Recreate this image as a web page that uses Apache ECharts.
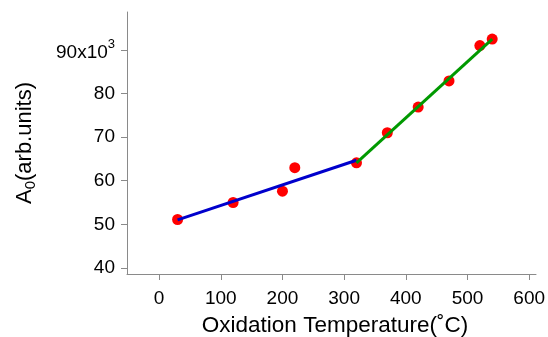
<!DOCTYPE html>
<html><head><meta charset="utf-8">
<script src="https://cdn.jsdelivr.net/npm/echarts@6/dist/echarts.min.js"></script>
<style>html,body{margin:0;padding:0;background:#fff}#c{width:548px;height:337px}</style>
</head><body><div id="c"></div>
<script>
// Data
const temperatures = [30, 120, 200, 220, 320, 370, 420, 470, 520, 540];
const amplitudes   = [51.1, 55.0, 57.6, 63.0, 64.1, 71.0, 76.9, 82.9, 91.0, 92.5];
const lowFitX  = [30, 320];
const lowFitY  = [51.0, 64.7];
const highFitX = [320, 540];
const highFitY = [64.1, 92.5];
const xTicks = [0, 100, 200, 300, 400, 500, 600];
const yTicks = [40, 50, 60, 70, 80, 90];

const FONT = 'Liberation Sans, Arial, sans-serif';
const AXIS = '#8a8a8a';

const chart = echarts.init(document.getElementById('c'), null, {renderer: 'canvas'});
const pts = temperatures.map((t, i) => [t, amplitudes[i]]);
const low = lowFitX.map((t, i) => [t, lowFitY[i]]);
const high = highFitX.map((t, i) => [t, highFitY[i]]);

chart.setOption({
  animation: false,
  backgroundColor: '#fff',
  grid: {left: 127, right: 12, top: 12, bottom: 63, containLabel: false, outerBoundsMode: 'none'},
  xAxis: {
    type: 'value', min: -52, max: 611,
    name: 'Oxidation Temperature(˚C)', nameLocation: 'middle', nameGap: 40,
    nameTextStyle: {fontFamily: FONT, fontSize: 22.5, color: '#000', padding: [0, 0, 0, 7]},
    axisLine: {show: true, onZero: false, lineStyle: {color: AXIS, width: 1}},
    axisTick: {show: true, length: 6, customValues: xTicks, lineStyle: {color: AXIS}},
    axisLabel: {customValues: xTicks, fontFamily: FONT, fontSize: 19, color: '#000', margin: 15},
    splitLine: {show: false}
  },
  yAxis: {
    type: 'value', min: 38.6, max: 98.7,
    name: '{m|A}{s|0}{m|(arb.units)}', nameLocation: 'middle', nameGap: 89, nameRotate: 90,
    nameTextStyle: {fontFamily: FONT, fontSize: 22, color: '#000',
      rich: {
        m: {fontFamily: FONT, fontSize: 22, lineHeight: 22, color: '#000', verticalAlign: 'top'},
        s: {fontFamily: FONT, fontSize: 15, lineHeight: 24, color: '#000', verticalAlign: 'bottom'}
      }},
    axisLine: {show: true, onZero: false, lineStyle: {color: AXIS, width: 1}},
    axisTick: {show: true, length: 6, customValues: yTicks, lineStyle: {color: AXIS}},
    axisLabel: {
      customValues: yTicks, fontFamily: FONT, fontSize: 19, color: '#000', margin: 12,
      formatter: v => v === 90 ? '{m|90x10}{sup|3}' : String(v),
      rich: {
        m: {fontFamily: FONT, fontSize: 19, lineHeight: 16, color: '#000', verticalAlign: 'bottom'},
        sup: {fontFamily: FONT, fontSize: 13, lineHeight: 24, color: '#000', verticalAlign: 'top'}
      }
    },
    splitLine: {show: false}
  },
  series: [
    {type: 'scatter', data: pts, symbol: 'circle', symbolSize: 11,
     itemStyle: {color: '#ff0000', opacity: 1}, z: 2},
    {type: 'line', data: low, showSymbol: false, symbol: 'none',
     lineStyle: {color: '#0000cc', width: 3}, z: 3},
    {type: 'line', data: high, showSymbol: false, symbol: 'none',
     lineStyle: {color: '#009900', width: 3}, z: 3}
  ]
});
</script>
</body></html>
